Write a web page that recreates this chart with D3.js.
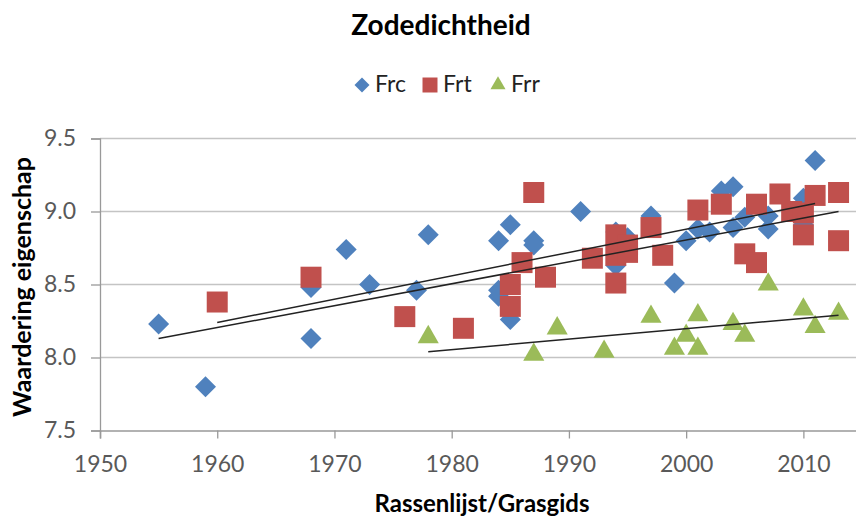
<!DOCTYPE html>
<html>
<head>
<meta charset="utf-8">
<script src="https://cdn.jsdelivr.net/npm/d3@7"></script>
<style>
  body { margin: 0; background: #fff; }
  text { font-family: Lato, "Open Sans", sans-serif; }
</style>
</head>
<body>
<div id="chart"></div>
<script>
// values
const frcYears = [1955, 1959, 1968, 1968, 1971, 1973, 1977, 1978, 1984, 1984, 1984, 1985, 1985, 1987, 1987,
  1991, 1994, 1994, 1995, 1997, 1999, 2000, 2001, 2002, 2003, 2004, 2004, 2005, 2007, 2007, 2010, 2010, 2011];
const frcValues = [8.23, 7.80, 8.48, 8.13, 8.74, 8.50, 8.46, 8.84, 8.80, 8.42, 8.46, 8.91, 8.26, 8.80, 8.77,
  9.00, 8.86, 8.63, 8.82, 8.97, 8.51, 8.80, 8.88, 8.86, 9.14, 9.17, 8.89, 8.96, 8.88, 8.97, 9.09, 8.91, 9.35];

const frtYears = [1960, 1968, 1976, 1981, 1985, 1985, 1986, 1987, 1988, 1992, 1994, 1994, 1994, 1995, 1995,
  1997, 1998, 2001, 2003, 2005, 2006, 2006, 2008, 2009, 2010, 2010, 2011, 2013, 2013];
const frtValues = [8.38, 8.55, 8.28, 8.20, 8.50, 8.35, 8.65, 9.13, 8.55, 8.68, 8.84, 8.70, 8.51, 8.77, 8.72,
  8.89, 8.70, 9.01, 9.05, 8.71, 9.05, 8.65, 9.12, 9.00, 8.99, 8.84, 9.11, 9.13, 8.80];

const frrYears = [1978, 1987, 1989, 1993, 1997, 1999, 2000, 2001, 2001, 2004, 2005, 2007, 2010, 2011, 2013];
const frrValues = [8.14, 8.02, 8.20, 8.04, 8.28, 8.06, 8.15, 8.29, 8.06, 8.23, 8.15, 8.50, 8.33, 8.21, 8.30];

// trend lines (start and end)
const frcTrend = [[1955, 8.13], [2013, 9.00]];
const frtTrend = [[1960, 8.24], [2011, 9.055]];
const frrTrend = [[1978, 8.04], [2013, 8.29]];

const xTicks = [1950, 1960, 1970, 1980, 1990, 2000, 2010];
const yTicks = [7.5, 8.0, 8.5, 9.0, 9.5];

const width = 856, height = 520;

const series = [
  {name: "Frc", years: frcYears, values: frcValues, color: "#4f81bd", symbol: "diamond"},
  {name: "Frt", years: frtYears, values: frtValues, color: "#c0504d", symbol: "square"},
  {name: "Frr", years: frrYears, values: frrValues, color: "#9bbb59", symbol: "triangle"}
];

const x = d3.scaleLinear().domain([1950, 2015]).range([100, 862]);
const y = d3.scaleLinear().domain([7.5, 9.5]).range([430.5, 138.5]);

const svg = d3.select("#chart").append("svg")
  .attr("width", width)
  .attr("height", height);

// marker path by type and size
function marker(type, s) {
  if (type === "diamond") return d3.symbol(d3.symbolSquare, s * s * 2)();
  if (type === "square") return d3.symbol(d3.symbolSquare, s * s * 4)();
  return d3.symbol(d3.symbolTriangle, s * s * 1.75)();
}

// gridlines
svg.append("g")
  .selectAll("line")
  .data(yTicks.slice(1))
  .enter().append("line")
  .attr("x1", x(1950)).attr("x2", width)
  .attr("y1", d => y(d)).attr("y2", d => y(d))
  .attr("stroke", "#c4c4c4")
  .attr("stroke-width", 1.5);

// y axis
const yAxis = svg.append("g")
  .attr("transform", `translate(${x(1950)},0)`)
  .call(d3.axisLeft(y).tickValues(yTicks).tickFormat(d3.format(".1f")).tickSize(9).tickPadding(15));
yAxis.select(".domain").attr("stroke", "#999").attr("stroke-width", 1.3);
yAxis.selectAll(".tick line").attr("stroke", "#999").attr("stroke-width", 1.3);
yAxis.selectAll("text").attr("fill", "#595959").style("font-size", "23px");

// x axis
const xAxis = svg.append("g")
  .attr("transform", `translate(0,${y(7.5)})`)
  .call(d3.axisBottom(x).tickValues(xTicks).tickFormat(d3.format("d")).tickSize(8).tickPadding(17));
xAxis.select(".domain").attr("stroke", "#999").attr("stroke-width", 1.5);
xAxis.selectAll(".tick line").attr("stroke", "#999").attr("stroke-width", 1.3);
xAxis.selectAll("text").attr("fill", "#595959").style("font-size", "23px");

// trend lines
const line = d3.line().x(d => x(d[0])).y(d => y(d[1]));

// points
series.forEach(s => {
  svg.append("g")
    .selectAll("path")
    .data(s.years.map((yr, i) => [yr, s.values[i]]))
    .enter().append("path")
    .attr("d", marker(s.symbol, 10.5))
    .attr("transform", d => `translate(${x(d[0])},${y(d[1])})` + (s.symbol === "diamond" ? " rotate(45)" : ""))
    .attr("fill", s.color);
});

// trend lines drawn on top of the markers
svg.append("g")
  .selectAll("path")
  .data([frcTrend, frtTrend, frrTrend])
  .enter().append("path")
  .attr("d", line)
  .attr("fill", "none")
  .attr("stroke", "#222")
  .attr("stroke-width", 1.5);

// title
svg.append("text")
  .attr("x", 441).attr("y", 35)
  .attr("text-anchor", "middle")
  .style("font-size", "28px").style("font-weight", "bold")
  .text("Zodedichtheid");

// legend
const legendX = [362, 430, 498];
const legend = svg.append("g")
  .selectAll("g")
  .data(series)
  .enter().append("g")
  .attr("transform", (d, i) => `translate(${legendX[i]},85)`);
legend.append("path")
  .attr("d", d => marker(d.symbol, 7.5))
  .attr("transform", d => d.symbol === "diamond" ? "rotate(45)" : "")
  .attr("fill", d => d.color);
legend.append("text")
  .attr("x", 13).attr("y", 7)
  .style("font-size", "23px")
  .attr("fill", "#222")
  .text(d => d.name);

// axis titles
svg.append("text")
  .attr("x", 482).attr("y", 512)
  .attr("text-anchor", "middle")
  .style("font-size", "24px").style("font-weight", "bold")
  .text("Rassenlijst/Grasgids");

svg.append("text")
  .attr("transform", "translate(31,287) rotate(-90)")
  .attr("text-anchor", "middle")
  .style("font-size", "25px").style("font-weight", "bold")
  .text("Waardering eigenschap");
</script>
</body>
</html>
